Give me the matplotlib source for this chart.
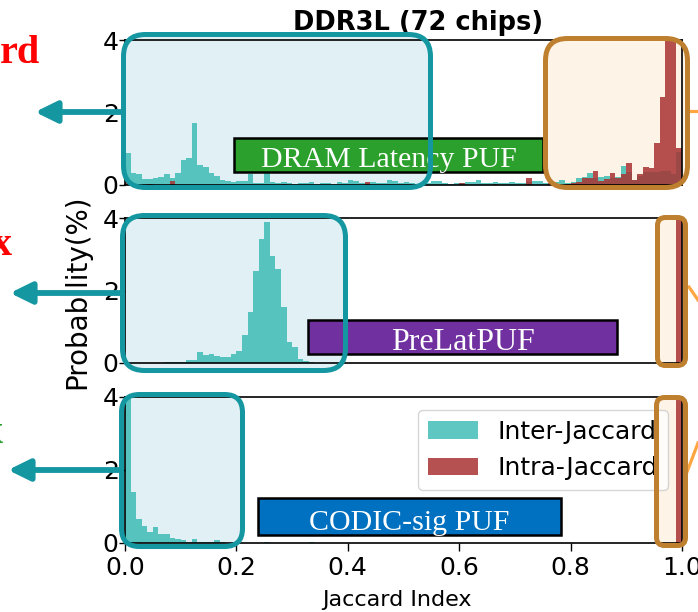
import numpy as np
import matplotlib
matplotlib.use("Agg")
import matplotlib.pyplot as plt
from matplotlib.patches import FancyBboxPatch, Rectangle, FancyArrowPatch, Patch
from matplotlib.lines import Line2D

# ---------------- data (probability %, 100 bins of width 0.01 over Jaccard index) ----------------
bin_width = 0.01
n_bins = 100

dram_inter = [0.87, 0.32, 0.30, 0.16, 0.16, 0.18, 0.21, 0.30, 0.18, 0.32,
              0.69, 0.74, 1.70, 0.55, 0.51, 0.34, 0.25, 0.14, 0.11, 0.09,
              0.12, 0.10, 0.29, 0.06, 0.06, 0.34, 0.08, 0.05, 0.07, 0.05,
              0.04, 0.06, 0.05, 0.08, 0.04, 0.06, 0.05, 0.04, 0.07, 0.05,
              0.14, 0.12, 0.06, 0.05, 0.07, 0.05, 0.06, 0.15, 0.12, 0.06,
              0.08, 0.05, 0.04, 0.06, 0.05, 0.10, 0.12, 0.05, 0.04, 0.06,
              0.05, 0.07, 0.08, 0.14, 0.06, 0.05, 0.07, 0.06, 0.05, 0.08,
              0.06, 0.05, 0.07, 0.12, 0.10, 0.06, 0.05, 0.08, 0.14, 0.05,
              0.09, 0.20, 0.23, 0.34, 0.20, 0.23, 0.25, 0.20, 0.22, 0.52,
              0.35, 0.14, 0.25, 0.35, 0.37, 0.37, 0.40, 0.40, 0.30, 0.90]

dram_intra = [0.08, 0.00, 0.00, 0.00, 0.03, 0.00, 0.00, 0.00, 0.10, 0.00,
              0.00, 0.00, 0.00, 0.00, 0.00, 0.00, 0.00, 0.00, 0.00, 0.00,
              0.00, 0.00, 0.00, 0.00, 0.00, 0.00, 0.00, 0.00, 0.03, 0.00,
              0.00, 0.00, 0.00, 0.00, 0.00, 0.00, 0.00, 0.00, 0.00, 0.00,
              0.00, 0.00, 0.00, 0.08, 0.00, 0.00, 0.00, 0.00, 0.00, 0.00,
              0.00, 0.00, 0.00, 0.04, 0.00, 0.00, 0.00, 0.00, 0.00, 0.00,
              0.06, 0.00, 0.00, 0.00, 0.00, 0.00, 0.04, 0.00, 0.00, 0.00,
              0.00, 0.00, 0.18, 0.00, 0.00, 0.00, 0.05, 0.00, 0.00, 0.03,
              0.05, 0.08, 0.18, 0.20, 0.40, 0.12, 0.16, 0.34, 0.20, 0.30,
              0.60, 0.14, 0.30, 0.51, 0.46, 1.15, 2.42, 6.50, 9.00, 1.02]

prelat_inter = [0.00, 0.00, 0.00, 0.00, 0.00, 0.01, 0.01, 0.02, 0.02, 0.03,
                0.03, 0.09, 0.09, 0.29, 0.22, 0.25, 0.20, 0.16, 0.16, 0.25,
                0.34, 0.77, 1.41, 2.55, 3.42, 3.88, 2.94, 2.58, 1.55, 0.58,
                0.43, 0.11, 0.06, 0.02, 0.01] + [0.0] * 65

prelat_intra = [0.0] * 99 + [80.0]

codic_inter = [12.0, 1.39, 0.67, 0.47, 0.29, 0.45, 0.26, 0.24, 0.13, 0.10,
               0.07, 0.04, 0.12, 0.02, 0.03, 0.02, 0.07, 0.02, 0.01, 0.01,
               0.00, 0.00, 0.00, 0.00, 0.00, 0.04, 0.00, 0.00, 0.00, 0.00,
               0.00, 0.00, 0.00, 0.03] + [0.0] * 66

codic_intra = [0.0] * 99 + [80.0]

panel_names = ["DRAM Latency PUF", "PreLatPUF", "CODIC-sig PUF"]
series_names = ["Inter-Jaccard", "Intra-Jaccard"]
title = "DDR3L (72 chips)"
y_ticks = [0, 2, 4]
x_ticks = [0.0, 0.2, 0.4, 0.6, 0.8, 1.0]

# ---------------- styles ----------------
W, H = 698, 612
inter_color = "#20b2aa"
intra_color = "#a83232"
inter_alpha = 0.72
intra_alpha = 0.85
teal_edge = "#1597a1"
teal_fill = "#e1f0f4"
orange_edge = "#be7f2f"
orange_fill = "#fdf3e6"
label_colors = ["#2ca02c", "#7030a0", "#0070c0"]

fig = plt.figure(figsize=(W / 100, H / 100), dpi=100)
T = fig.dpi_scale_trans


def P(x, y):
    return (x / 100.0, (H - y) / 100.0)


def rbox(x0, y0, x1, y1, r, fc, ec, lw_px=5):
    ins = lw_px / 2.0
    xa, ya = P(x0 + ins, y1 - ins)
    w = (x1 - x0 - 2 * ins) / 100.0
    h = (y1 - y0 - 2 * ins) / 100.0
    fill = FancyBboxPatch((xa, ya), w, h, boxstyle=f"round,pad=0,rounding_size={r/100.0}",
                          transform=T, facecolor=fc, edgecolor="none", zorder=-1)
    edge = FancyBboxPatch((xa, ya), w, h, boxstyle=f"round,pad=0,rounding_size={r/100.0}",
                          transform=T, facecolor="none", edgecolor=ec,
                          linewidth=lw_px * 0.72, zorder=10)
    fig.add_artist(fill)
    fig.add_artist(edge)


# axes rectangles (pixels): left, right, top, bottom
ax_px = [(125, 682, 40, 185), (125, 682, 218, 363), (125, 682, 397, 543)]
inter_data = [dram_inter, prelat_inter, codic_inter]
intra_data = [dram_intra, prelat_intra, codic_intra]
edges = np.arange(n_bins) * bin_width

axes = []
for i, (l, r, t, b) in enumerate(ax_px):
    ax = fig.add_axes([l / W, 1 - b / H, (r - l) / W, (b - t) / H])
    ax.set_facecolor("none")
    ax.bar(edges, inter_data[i], width=bin_width, align="edge", color=inter_color,
           alpha=inter_alpha, linewidth=0, label=series_names[0])
    ax.bar(edges, intra_data[i], width=bin_width, align="edge", color=intra_color,
           alpha=intra_alpha, linewidth=0, label=series_names[1])
    ax.set_xlim(0, 1.0)
    ax.set_ylim(0, 4)
    ax.set_yticks(y_ticks)
    ax.tick_params(axis="y", labelsize=18, length=4, width=1, pad=0.5)
    for s in ax.spines.values():
        s.set_linewidth(1.2)
    if i < 2:
        ax.set_xticks([])
    else:
        ax.set_xticks(x_ticks)
        ax.tick_params(axis="x", labelsize=18, length=5.5, width=1, pad=4)
    axes.append(ax)

# legend
handles = [Patch(facecolor=inter_color, alpha=inter_alpha), Patch(facecolor=intra_color, alpha=intra_alpha)]
axes[2].legend(handles, series_names, loc="upper right", bbox_to_anchor=(0.975, 0.911),
               borderaxespad=0, fontsize=18)

# highlight boxes
rbox(121, 32, 433, 190, 22, teal_fill, teal_edge)
rbox(120, 213, 348, 373, 22, teal_fill, teal_edge)
rbox(119, 392, 245, 549, 18, teal_fill, teal_edge)
rbox(543, 36, 690, 190, 22, orange_fill, orange_edge)
rbox(655, 215, 688, 368, 8, orange_fill, orange_edge)
rbox(654, 395, 688, 548, 8, orange_fill, orange_edge)

# arrows pointing left
for (x0, x1, y) in [(121, 35, 112), (120, 10, 293), (119, 8, 470)]:
    arr = FancyArrowPatch(P(x0, y), P(x1, y), transform=T,
                          arrowstyle="-|>,head_length=0.65,head_width=0.32",
                          mutation_scale=20, linewidth=4.2, color=teal_edge,
                          shrinkA=0, shrinkB=0, zorder=11)
    fig.add_artist(arr)

# orange leader lines going off to the right
for (xa, ya, xb, yb) in [(690, 111, 698, 111), (689, 287, 698, 300), (687, 472, 698, 443)]:
    (ax_, ay_), (bx_, by_) = P(xa, ya), P(xb, yb)
    fig.add_artist(Line2D([ax_, bx_], [ay_, by_], transform=T, color="#ffa640",
                          linewidth=2.3, zorder=9))

# method label boxes
label_boxes = [(234, 543, 138, 172, 167), (308, 617, 320, 354, 350), (258, 561, 498, 535, 530)]
label_sizes = [21.5, 23, 21.5]
for name, col, fs, (x0, x1, y0, y1, base) in zip(panel_names, label_colors, label_sizes, label_boxes):
    rect = Rectangle(P(x0, y1), (x1 - x0) / 100.0, (y1 - y0) / 100.0, transform=T,
                     facecolor=col, edgecolor="black", linewidth=1.8, zorder=5)
    fig.add_artist(rect)
    fig.text((x0 + x1) / 2 / W, 1 - base / H, name, ha="center", va="baseline",
             color="white", fontsize=fs, family="Liberation Serif", zorder=6)

# titles / labels
fig.text(418 / W, 1 - 30.5 / H, title, ha="center", va="baseline", fontsize=18.5,
         fontweight="bold")
fig.text(77 / W, 1 - 292 / H, "Probability(%)", rotation=90, ha="center", va="center",
         fontsize=20)
fig.text(396.5 / W, 1 - 606 / H, "Jaccard Index", ha="center", va="baseline", fontsize=16)

# clipped annotations at the left edge
fig.text(0 / W, 1 - 63 / H, "rd", ha="left", va="baseline", color="red", fontsize=29,
         fontweight="bold", family="Liberation Serif")
fig.text(12 / W, 1 - 255 / H, "x", ha="right", va="baseline", color="red", fontsize=29,
         fontweight="bold", family="Liberation Serif")
fig.text(3 / W, 1 - 443 / H, "x", ha="right", va="baseline", color="#2ca02c", fontsize=29,
         fontweight="bold", family="Liberation Serif")

fig.savefig("out.png", dpi=100)
